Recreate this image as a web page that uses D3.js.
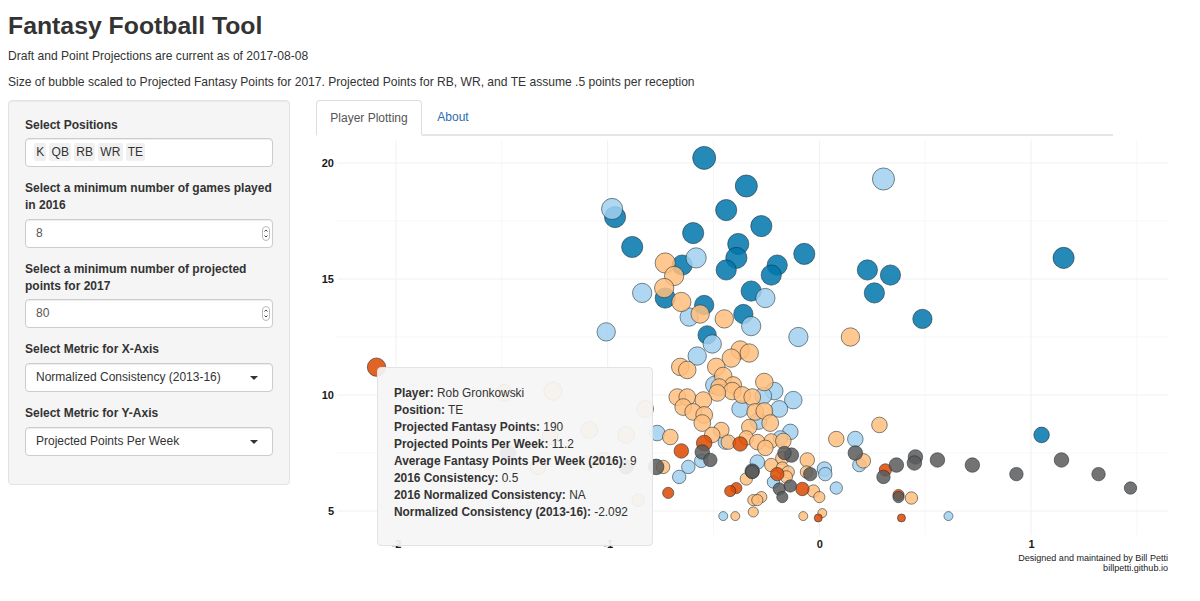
<!DOCTYPE html>
<html>
<head>
<meta charset="utf-8">
<title>Fantasy Football Tool</title>
<script src="https://cdn.jsdelivr.net/npm/d3@7/dist/d3.min.js"></script>
<style>
  html, body { margin: 0; padding: 0; background: #fff; }
  body { width: 1200px; height: 601px; overflow: hidden; position: relative; color: #333;
         font-family: "Liberation Sans", Arial, sans-serif; font-size: 12px; }
  #plot { position: absolute; left: 0; top: 0; }
  .abs { position: absolute; white-space: nowrap; font-size: 12.08px; }
  h2 { position: absolute; left: 8px; top: 10px; margin: 0; font-size: 24.8px; line-height: 32px; font-weight: bold; color: #333; }
  .well { position: absolute; left: 8px; top: 100px; width: 282px; height: 385px; box-sizing: border-box;
          background: #f5f5f5; border: 1px solid #e3e3e3; border-radius: 4px; box-shadow: inset 0 1px 1px rgba(0,0,0,.05); }
  .lab { position: absolute; left: 25px; font-weight: bold; line-height: 17px; white-space: nowrap; }
  .box { position: absolute; left: 25px; width: 248px; box-sizing: border-box; background: #fff; border: 1px solid #ccc;
         border-radius: 4px; box-shadow: inset 0 1px 1px rgba(0,0,0,.075); padding-left: 10px; color: #555; line-height: 27px; }
  .chip { display: inline-block; background: #f0f0f0; border-radius: 2px; padding: 0 2.2px; margin-right: 3px; line-height: 18px; color: #333; }
  .chips { padding-left: 8px; line-height: 26px; }
  .caret { position: absolute; right: 14px; top: 12px; width: 0; height: 0;
           border-left: 4px solid transparent; border-right: 4px solid transparent; border-top: 4px solid #333; }
  .spin { position: absolute; right: 2px; top: 6px; width: 8px; height: 15px; box-sizing: border-box; border: 1px solid #bbb; border-radius: 4px; background: #fff; }
  .spin svg { position: absolute; left: 0; top: 0; }
  .box.sel { color: #333; }
  .tab { position: absolute; top: 100px; height: 36px; line-height: 35px; box-sizing: border-box; text-align: center; }
  #tabline { position: absolute; left: 316px; top: 134px; width: 797px; height: 2px; background: #e6e6e6; }
  #tab1 { left: 316px; width: 106px; background: #fff; border: 1px solid #ddd; border-bottom: 2px solid #fff; border-radius: 4px 4px 0 0; color: #555; }
  #tab2 { left: 422px; width: 62px; color: #2a6cb0; }
  #tip { position: absolute; left: 377px; top: 367px; width: 276px; height: 179px; box-sizing: border-box;
         padding: 17px 16px 0 16px; background: rgba(245,245,245,.92); border: 1px solid #e3e3e3; border-radius: 4px;
         line-height: 17px; white-space: nowrap; font-size: 11.9px; }
  #tip b { font-weight: bold; }
</style>
</head>
<body>
<svg id="plot" width="1200" height="601"></svg>

<h2>Fantasy Football Tool</h2>
<div class="abs" style="left:8px;top:49px;">Draft and Point Projections are current as of 2017-08-08</div>
<div class="abs" style="left:8px;top:75px;">Size of bubble scaled to Projected Fantasy Points for 2017. Projected Points for RB, WR, and TE assume .5 points per reception</div>

<div class="well"></div>
<div class="lab" style="top:117px;">Select Positions</div>
<div class="box chips" style="top:138px;height:29px;" id="chips"></div>
<div class="lab" style="top:180px;">Select a minimum number of games played<br>in 2016</div>
<div class="box" style="top:219px;height:29px;">8<div class="spin"></div></div>
<div class="lab" style="top:261px;">Select a minimum number of projected<br>points for 2017</div>
<div class="box" style="top:299px;height:29px;">80<div class="spin"></div></div>
<div class="lab" style="top:341px;">Select Metric for X-Axis</div>
<div class="box sel" style="top:363px;height:29px;">Normalized Consistency (2013-16)<div class="caret"></div></div>
<div class="lab" style="top:405px;">Select Metric for Y-Axis</div>
<div class="box sel" style="top:427px;height:29px;">Projected Points Per Week<div class="caret"></div></div>

<div id="tabline"></div>
<div class="tab" id="tab1">Player Plotting</div>
<div class="tab" id="tab2">About</div>

<div id="tip"></div>

<script>
// ── Data: [normalized consistency, projected pts per week, projected pts] ──

const positions = ['K', 'QB', 'RB', 'WR', 'TE'];

const qbPlayers = [
  [-0.544,20.22,340],[-0.345,19.01,310],[-0.44,17.97,280],[-0.274,17.28,280],[-0.965,17.67,280],
  [-0.596,16.98,280],[-0.884,16.38,280],[-0.383,16.51,280],[-0.392,15.91,280],[-0.071,16.08,280],
  [1.154,15.91,280],[-0.199,15.6,250],[-0.227,15.17,250],[-0.44,15.39,250],[-0.648,15.6,250],
  [0.227,15.39,250],[0.336,15.17,250],[0.26,14.4,250],[-0.322,14.48,250],[-0.728,14.18,250],
  [0.487,13.28,220],[-0.544,13.88,220],[-0.359,13.49,220],[-0.53,12.59,190],[1.05,8.28,130]
];

const rbPlayers = [
  [-0.979,18.02,280],[0.303,19.31,310],[-0.582,15.91,250],[-0.837,14.4,220],[-0.255,14.18,220],
  [-0.615,13.36,190],[-0.322,12.97,220],[-1.007,12.72,190],[-0.099,12.5,220],[-0.506,12.2,190],
  [-0.577,11.68,190],[-0.496,10.43,170],[-0.213,10.17,170],[-0.265,9.96,150],[-0.123,9.78,170],
  [-0.189,9.4,150],[-0.374,9.4,150],[-0.288,8.88,150],[-0.766,8.36,130],[-0.137,8.41,130],
  [-0.184,8.15,120],[-0.444,7.97,120],[0.17,8.1,130],[-0.293,7.11,120],[-0.558,7.16,110],
  [-0.619,6.9,110],[-0.662,6.47,110],[0.024,6.81,120],[0.028,6.59,110],[0.189,6.98,110],
  [-0.217,6.25,100],[0.08,5.99,100],[-0.454,4.78,80],[0.61,4.78,80]
];

const wrPlayers = [
  [-0.728,15.69,250],[-0.686,15.13,220],[-0.733,14.61,220],[-0.652,14.01,220],[-0.563,13.49,190],
  [-0.449,13.28,190],[0.147,12.5,190],[-0.374,11.94,190],[-0.331,11.81,190],[-0.416,11.59,190],
  [-0.487,11.21,170],[-0.454,10.82,170],[-0.657,11.21,170],[-0.624,11.08,170],[-0.26,10.56,170],
  [-0.407,10.43,150],[-0.473,10.34,150],[-0.411,10.17,170],[-0.482,10.09,150],[-0.364,10,150],
  [-0.317,9.91,150],[-0.671,9.91,150],[-0.624,9.91,150],[-0.548,9.78,150],[-0.643,9.48,150],
  [-0.596,9.27,150],[-0.544,9.14,150],[-0.553,8.79,150],[-0.303,9.27,150],[-0.26,9.31,150],
  [-0.232,8.79,150],[-0.463,8.49,130],[-0.506,8.28,130],[-0.331,8.62,130],[-0.704,8.19,130],
  [-0.43,7.97,120],[-0.345,8.15,120],[-0.293,7.97,130],[-0.227,8.02,120],[-0.17,8.02,130],
  [-0.255,7.72,130],[-0.175,7.28,110],[-0.227,6.98,110],[-0.057,7.2,120],[-0.061,6.68,100],
  [-0.175,6.85,100],[-0.147,6.68,100],[-0.156,6.47,100],[0.08,8.1,130],[0.284,8.71,130],
  [0.208,7.16,120],[-0.345,6.38,100],[-0.028,5.86,100],[0,5.6,93],[0.435,5.56,100],
  [-0.274,5.6,93],[-0.312,5.47,93],[-0.293,5.47,93],[-0.312,4.96,87],[-0.397,4.78,80],
  [-0.076,4.78,80],[0.014,4.91,80],[-0.738,6.9,110],[-1.489,10.09,150],[-1.258,10.17,190],
  [-0.823,9.4,150],[-1.087,8.49,150],[-0.913,8.28,150],[-1.272,8.19,130],[-1.021,7.16,150],
  [-1.097,7.07,120],[-1.329,6.9,130],[-0.856,5.47,100]
];

const tePlayers = [
  [-2.092,11.2,190],[-0.544,7.93,130],[-0.652,7.59,120],[-0.374,7.89,120],[-0.199,6.59,110],
  [-0.08,5.95,110],[-0.392,5.99,93],[-0.421,5.86,93],[-0.714,5.78,93],[0.312,6.77,100],
  [0.374,5.69,93],[-0.005,4.7,70],[0.388,4.7,70]
];

const kPlayers = [
  [-0.553,7.54,120],[-0.515,7.2,110],[-0.317,6.72,120],[-0.317,6.68,110],[-0.132,7.41,120],
  [-0.165,7.5,110],[-0.043,6.59,110],[-0.189,5.95,100],[-0.137,6.08,100],[-0.175,5.6,93],
  [0.17,7.5,120],[0.303,6.47,110],[0.364,6.98,120],[0.454,7.33,120],[0.449,7.07,120],
  [0.558,7.2,120],[0.723,6.98,120],[0.931,6.59,110],[1.144,7.2,120],[1.319,6.59,110],
  [1.47,5.99,100],[0.374,5.6,93],[-0.771,6.9,130],[-0.913,6.9,120],[-1.47,7.5,130]
];

const xTicks = [-2, -1, 0, 1];
const xMinor = [-1.5, -0.5, 0.5, 1.5];
const yTicks = [5, 10, 15, 20];
const yMinor = [7.5, 12.5, 17.5];

const tipRows = [
  ['Player:', 'Rob Gronkowski'],
  ['Position:', 'TE'],
  ['Projected Fantasy Points:', '190'],
  ['Projected Points Per Week:', '11.2'],
  ['Average Fantasy Points Per Week (2016):', '9'],
  ['2016 Consistency:', '0.5'],
  ['2016 Normalized Consistency:', 'NA'],
  ['Normalized Consistency (2013-16):', '-2.092']
];

// drawn back to front
const layers = [
  { players: qbPlayers, color: '#0076ac' },
  { players: rbPlayers, color: '#a1d0ee' },
  { players: wrPlayers, color: '#ffbe7e' },
  { players: tePlayers, color: '#dc4900' },
  { players: kPlayers,  color: '#5a5a5a' }
];

// ── Scales ─────────────────────────────────────────────────────────────────

const x = d3.scaleLinear().domain([-2, 1]).range([396, 1031]);
const y = d3.scaleLinear().domain([5, 20]).range([511, 163]);
const r = d3.scaleLinear()
  .domain([70, 80, 100, 130, 150, 190, 340])
  .range([4, 4.5, 6.2, 7.8, 8.4, 9.2, 11.5]);

const gridLeft = 337, gridRight = 1168, gridTop = 140, gridBottom = 535;

const svg = d3.select('#plot');

// ── Grid ───────────────────────────────────────────────────────────────────

const grid = svg.append('g');

function hLines(vals, col) {
  grid.append('g').selectAll('line').data(vals).join('line')
    .attr('x1', gridLeft).attr('x2', gridRight)
    .attr('y1', d => y(d)).attr('y2', d => y(d))
    .attr('stroke', col).attr('stroke-width', 1);
}
function vLines(vals, col) {
  grid.append('g').selectAll('line').data(vals).join('line')
    .attr('y1', gridTop).attr('y2', gridBottom)
    .attr('x1', d => x(d)).attr('x2', d => x(d))
    .attr('stroke', col).attr('stroke-width', 1);
}
hLines(yMinor, '#f7f7f7');
vLines(xMinor, '#f7f7f7');
hLines(yTicks, '#f0f0f0');
vLines(xTicks, '#f0f0f0');

// ── Axes ───────────────────────────────────────────────────────────────────

const yAxis = svg.append('g')
  .attr('transform', `translate(${gridLeft - 3},0)`)
  .call(d3.axisLeft(y).tickValues(yTicks).tickSize(0).tickPadding(0));

const xAxis = svg.append('g')
  .attr('transform', `translate(0,${gridBottom + 5})`)
  .call(d3.axisBottom(x).tickValues(xTicks).tickSize(0).tickPadding(0).tickFormat(d => String(d)));

[yAxis, xAxis].forEach(a => {
  a.select('.domain').remove();
  a.selectAll('text')
    .attr('font-family', '"Liberation Sans", Arial, sans-serif')
    .attr('font-size', 11)
    .attr('font-weight', 'bold')
    .attr('fill', '#1a1a1a');
});

// ── Bubbles ────────────────────────────────────────────────────────────────

layers.forEach(layer => {
  svg.append('g').selectAll('circle').data(layer.players).join('circle')
    .attr('cx', d => x(d[0]))
    .attr('cy', d => y(d[1]))
    .attr('r', d => r(d[2]))
    .attr('fill', layer.color)
    .attr('fill-opacity', .85)
    .attr('stroke', '#1c2a33')
    .attr('stroke-opacity', .55)
    .attr('stroke-width', 1);
});

// ── Caption ────────────────────────────────────────────────────────────────

svg.append('g').selectAll('text')
  .data(['Designed and maintained by Bill Petti', 'billpetti.github.io'])
  .join('text')
  .attr('x', gridRight)
  .attr('y', (d, i) => 561 + i * 10)
  .attr('text-anchor', 'end')
  .attr('font-family', '"Liberation Sans", Arial, sans-serif')
  .attr('font-size', 9.05)
  .attr('fill', '#222')
  .text(d => d);

// ── Sidebar chips, spinners and tooltip ────────────────────────────────────

d3.select('#chips').selectAll('span').data(positions).join('span')
  .attr('class', 'chip')
  .text(d => d);

d3.selectAll('.spin').append('svg')
  .attr('width', 6).attr('height', 13)
  .append('path')
  .attr('d', 'M1.5 4.5L3 3L4.5 4.5M1.5 8.5L3 10L4.5 8.5')
  .attr('fill', 'none')
  .attr('stroke', '#444')
  .attr('stroke-width', 1);

const rows = d3.select('#tip').selectAll('div').data(tipRows).join('div');
rows.append('b').text(d => d[0]);
rows.append('span').text(d => ' ' + d[1]);
</script>
</body>
</html>
